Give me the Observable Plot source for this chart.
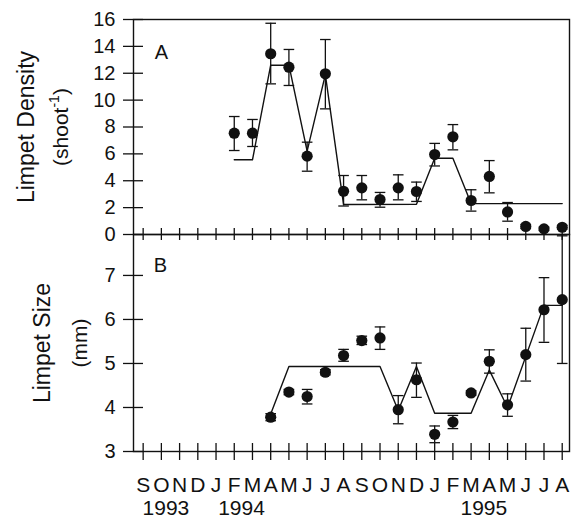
<!DOCTYPE html>
<html>
<head>
<meta charset="utf-8">
<script src="https://cdn.jsdelivr.net/npm/d3@7"></script>
<script src="https://cdn.jsdelivr.net/npm/@observablehq/plot@0.6"></script>
<style>
  html, body { margin: 0; padding: 0; background: #fff; }
  #chart { position: relative; width: 574px; height: 520px; }
  #chart svg { position: absolute; left: 0; top: 0; }
  #chart [aria-label^="y-axis"] text { font-size: 20px; }
  #chart [aria-label^="x-axis"] text { font-size: 21px; }
</style>
</head>
<body>
<div id="chart"></div>
<script>
// ---- data ----
const months = ["S","O","N","D","J","F","M","A","M","J","J","A","S","O","N","D","J","F","M","A","M","J","J","A"];
const years = ["1993", "1994", "1995"];
const yearPos = [1.25, 5.4, 18.7];

const densityTicks = [0, 2, 4, 6, 8, 10, 12, 14, 16];
const sizeTicks = [3, 4, 5, 6, 7];

// Panel A: limpet density (per shoot), month index 5 = Feb 1994
const densityIdx  = [5, 6, 7, 8, 9, 10, 11, 12, 13, 14, 15, 16, 17, 18, 19, 20, 21, 22, 23];
const densityMean = [7.54, 7.54, 13.45, 12.45, 5.83, 11.96, 3.22, 3.47, 2.60, 3.47, 3.20, 5.95, 7.27, 2.53, 4.32, 1.68, 0.60, 0.42, 0.54];
const densityLo   = [6.25, 6.55, 11.21, 11.09, 4.71, 9.35, 2.12, 2.58, 2.03, 2.58, 2.46, 5.10, 6.30, 1.74, 3.10, 0.99, 0.45, 0.30, 0.40];
const densityHi   = [8.78, 8.56, 15.72, 13.77, 6.87, 14.51, 4.39, 4.39, 3.13, 4.44, 3.90, 6.78, 8.18, 3.33, 5.50, 2.38, 0.75, 0.55, 0.68];
const densityFitIdx = [5, 6, 7, 8, 9, 10, 11, 15, 16, 17, 18, 23];
const densityFit    = [5.56, 5.56, 12.6, 12.6, 6.2, 11.9, 2.23, 2.25, 5.68, 5.68, 2.3, 2.3];

// Panel B: limpet size (mm), month index 7 = Apr 1994
const sizeIdx  = [7, 8, 9, 10, 11, 12, 13, 14, 15, 16, 17, 18, 19, 20, 21, 22, 23];
const sizeMean = [3.78, 4.35, 4.25, 4.80, 5.18, 5.52, 5.58, 3.95, 4.63, 3.39, 3.67, 4.33, 5.05, 4.06, 5.20, 6.22, 6.45];
const sizeLo   = [3.70, 4.29, 4.08, 4.74, 5.05, 5.43, 5.32, 3.63, 4.23, 3.20, 3.52, 4.28, 4.78, 3.80, 4.60, 5.48, 5.00];
const sizeHi   = [3.86, 4.41, 4.41, 4.86, 5.32, 5.62, 5.83, 4.27, 5.01, 3.58, 3.82, 4.38, 5.31, 4.31, 5.80, 6.95, 7.90];
const sizeFitIdx = [7, 8, 13, 14, 15, 16, 18, 19, 20, 22, 23];
const sizeFit    = [3.85, 4.93, 4.93, 3.93, 4.93, 3.87, 3.87, 4.85, 4.00, 6.32, 6.32];

const titleA = "Limpet Density";
const unitA = ["(shoot", "-1", ")"];
const titleB = "Limpet Size";
const unitB = "(mm)";
const panelA = "A", panelB = "B";

// ---- build tables ----
const monthIdx = months.map((m, i) => i);
const densityRows = densityIdx.map((x, i) => ({x, mean: densityMean[i], lo: densityLo[i], hi: densityHi[i]}));
const densityFitRows = densityFitIdx.map((x, i) => ({x, y: densityFit[i]}));
const sizeRows = sizeIdx.map((x, i) => ({x, mean: sizeMean[i], lo: sizeLo[i], hi: sizeHi[i]}));
const sizeFitRows = sizeFitIdx.map((x, i) => ({x, y: sizeFit[i]}));
const yearRows = years.map((t, i) => ({t, x: yearPos[i]}));

const ink = "#111";
const font = "'Liberation Sans', Arial, Helvetica, sans-serif";
const W = 574, H = 520, ML = 133, MR = 5;
const innerW = W - ML - MR;
const xDomain = [-0.53, 23.4];

const capSymbol = { draw(ctx, size) { const w = Math.sqrt(size / Math.PI); ctx.moveTo(-w, 0); ctx.lineTo(w, 0); } };

const svgStyle = { background: "transparent", fontFamily: font, fontSize: "20px", color: ink, overflow: "visible" };

function panelMarks(rows, fitRows) {
  return [
    Plot.line(fitRows, {x: "x", y: "y", stroke: ink, strokeWidth: 1.4}),
    Plot.ruleX(rows, {x: "x", y1: "lo", y2: "hi", stroke: ink, strokeWidth: 1.3}),
    Plot.dot(rows, {x: "x", y: "hi", symbol: capSymbol, r: 5.3, fill: "none", stroke: ink, strokeWidth: 1.3}),
    Plot.dot(rows, {x: "x", y: "lo", symbol: capSymbol, r: 5.3, fill: "none", stroke: ink, strokeWidth: 1.3}),
    Plot.dot(rows, {x: "x", y: "mean", r: 5.6, fill: ink, stroke: "none"})
  ];
}

// ---- bottom panel (B) ----
const bottomTop = 234, bottomBottom = 451;
const bottomPlot = Plot.plot({
  width: W, height: H,
  marginLeft: ML, marginRight: MR, marginTop: bottomTop, marginBottom: H - bottomBottom,
  style: svgStyle,
  x: {domain: xDomain, ticks: monthIdx, tickFormat: i => months[i], tickSize: 0, tickPadding: 26, label: null},
  y: {domain: [3, 7.93], ticks: sizeTicks, tickSize: 0, tickPadding: 18, label: null, tickFormat: d => String(d)},
  marks: [
    Plot.frame({stroke: ink, strokeWidth: 1.4}),
    Plot.ruleY(sizeTicks, {y: d => d, stroke: ink, strokeWidth: 1.3, insetLeft: -10, insetRight: innerW - 10}),
    Plot.ruleX(monthIdx, {x: d => d, stroke: ink, strokeWidth: 1.3, insetTop: (bottomBottom - bottomTop) - 8, insetBottom: -9}),
    ...panelMarks(sizeRows, sizeFitRows),
    Plot.text([panelB], {text: d => d, frameAnchor: "top-left", dx: 27, dy: 31.5, textAnchor: "middle", lineAnchor: "middle", fontSize: 20, fill: ink}),
    Plot.text([titleB], {text: d => d, frameAnchor: "left", dx: -90.5, rotate: -90, textAnchor: "middle", lineAnchor: "middle", fontSize: 23, fill: ink}),
    Plot.text([unitB], {text: d => d, frameAnchor: "left", dx: -53.5, rotate: -90, textAnchor: "middle", lineAnchor: "middle", fontSize: 21, fill: ink}),
    Plot.text(yearRows, {x: "x", text: "t", frameAnchor: "bottom", dy: 57, textAnchor: "middle", lineAnchor: "middle", fontSize: 21, fill: ink})
  ]
});

// ---- top panel (A) ----
const topTop = 19, topBottom = 234;
const unitAText = unitA.join("");
const topPlot = Plot.plot({
  width: W, height: H,
  marginLeft: ML, marginRight: MR, marginTop: topTop, marginBottom: H - topBottom,
  style: svgStyle,
  x: {domain: xDomain, axis: null},
  y: {domain: [0, 16], ticks: densityTicks, tickSize: 0, tickPadding: 18, label: null, tickFormat: d => String(d)},
  marks: [
    Plot.frame({stroke: ink, strokeWidth: 1.4}),
    Plot.ruleY(densityTicks, {y: d => d, stroke: ink, strokeWidth: 1.3, insetLeft: -10, insetRight: innerW - 10}),
    Plot.ruleX(monthIdx, {x: d => d, stroke: ink, strokeWidth: 1.3, insetTop: (topBottom - topTop) - 6, insetBottom: -6}),
    ...panelMarks(densityRows, densityFitRows),
    Plot.text([panelA], {text: d => d, frameAnchor: "top-left", dx: 28, dy: 33.5, textAnchor: "middle", lineAnchor: "middle", fontSize: 20, fill: ink}),
    Plot.text([titleA], {text: d => d, frameAnchor: "left", dx: -107, rotate: -90, textAnchor: "middle", lineAnchor: "middle", fontSize: 23, fill: ink}),
    Plot.text([unitAText], {text: d => d, frameAnchor: "left", dx: -72, rotate: -90, textAnchor: "middle", lineAnchor: "middle", fontSize: 21, fill: ink})
  ]
});

// superscript for the unit
d3.select(topPlot).selectAll("text").filter(function() { return this.textContent === unitAText; }).each(function() {
  const t = d3.select(this);
  t.text(null);
  t.append("tspan").text(unitA[0]);
  t.append("tspan").attr("dy", -9).attr("font-size", "14px").text(unitA[1]);
  t.append("tspan").attr("dy", 9).text(unitA[2]);
});

const chart = document.getElementById("chart");
chart.appendChild(bottomPlot);
chart.appendChild(topPlot);
</script>
</body>
</html>
